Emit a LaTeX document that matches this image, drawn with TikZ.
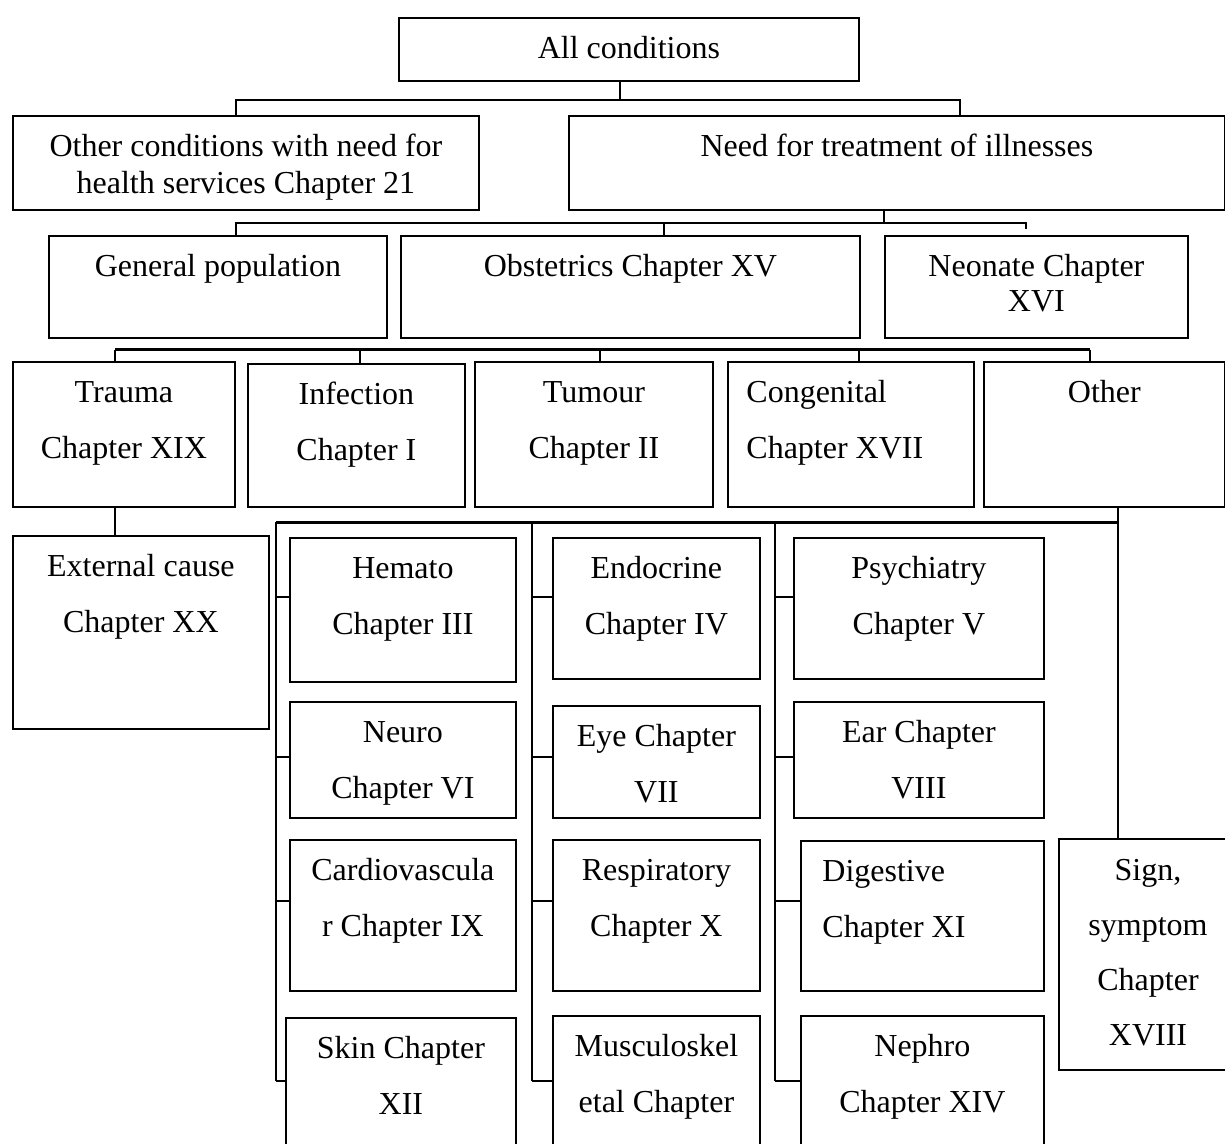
\documentclass[tikz,border=0pt]{standalone}
\usepackage{fontspec}
\setmainfont{Liberation Serif}
\newcommand\vlinesc[2]{\vtop{\baselineskip=#1\lineskiplimit=-20pt\lineskip=0pt\halign{\hfil##\hfil\cr#2\crcr}}}
\newcommand\vlinesl[2]{\vtop{\baselineskip=#1\lineskiplimit=-20pt\lineskip=0pt\halign{##\hfil\cr#2\crcr}}}
\tikzset{
  box/.style={draw, line width=0.9pt, inner sep=0pt, anchor=north west},
  conn/.style={line width=0.7pt},
  bus/.style={line width=1.5pt},
  txt/.style={inner sep=0pt, anchor=base, font=\fontsize{16}{18.5}\selectfont},
}
% name, x1, y1, x2, y2
\newcommand\bx[5]{\node[box, minimum width={(#4-#2)*0.5pt}, minimum height={(#5-#3)*0.5pt}] (#1) at (#2,#3) {};}
% centered text: name, spacing, lines
\newcommand\tx[3]{\node[txt] (#1-t) at ([yshift=-20.8pt]#1.north) {\vlinesc{#2}{#3}};}
% left text: name, indent(pt), spacing, lines
\newcommand\txl[4]{\node[txt, anchor=base west] (#1-t) at ([yshift=-20.8pt, xshift=#2]#1.north west) {\vlinesl{#3}{#4}};}
\newcommand\tk[3]{\draw[conn] (#1,#2) -- (#3.west |- #1,#2);}
\begin{document}
\begin{tikzpicture}[x=0.5pt, y=-0.5pt]
\useasboundingbox (0,0) rectangle (1225,1144);
% boxes
\bx{all}{398}{17}{858}{80}
\bx{other}{12}{115}{478}{209}
\bx{need}{568}{115}{1224}{209}
\bx{genpop}{48}{235}{386}{337}
\bx{obst}{400}{235}{859}{337}
\bx{neo}{884}{235}{1187}{337}
\bx{trauma}{12}{361}{234}{506}
\bx{infect}{247}{363}{464}{506}
\bx{tumour}{474}{361}{712}{506}
\bx{cong}{727}{361}{973}{506}
\bx{otherc}{983}{361}{1224}{506}
\bx{ext}{12}{535}{268}{728}
\bx{hemato}{289}{537}{515}{681}
\bx{neuro}{289}{701}{515}{817}
\bx{cardio}{289}{839}{515}{990}
\bx{skin}{285}{1017}{515}{1170}
\bx{endo}{552}{537}{759}{678}
\bx{eye}{552}{705}{759}{817}
\bx{resp}{552}{839}{759}{990}
\bx{musc}{552}{1015}{759}{1170}
\bx{psych}{793}{537}{1043}{678}
\bx{ear}{793}{701}{1043}{817}
\bx{dig}{800}{840}{1043}{990}
\bx{nephro}{800}{1015}{1043}{1170}
\bx{sign}{1058}{838}{1240}{1069}
% texts
\tx{all}{18.5pt}{All conditions}
\tx{other}{18.5pt}{Other conditions with need for\cr health services Chapter 21}
\tx{need}{18.5pt}{Need for treatment of illnesses}
\tx{genpop}{18.5pt}{General population}
\tx{obst}{18.5pt}{Obstetrics Chapter XV}
\tx{neo}{17.5pt}{Neonate Chapter\cr XVI}
\tx{trauma}{28pt}{Trauma\cr Chapter XIX}
\tx{infect}{28pt}{Infection\cr Chapter I}
\tx{tumour}{28pt}{Tumour\cr Chapter II}
\txl{cong}{9.5pt}{28pt}{Congenital\cr Chapter XVII}
\tx{otherc}{28pt}{Other}
\tx{ext}{28pt}{External cause\cr Chapter XX}
\tx{hemato}{28pt}{Hemato\cr Chapter III}
\tx{neuro}{28pt}{Neuro\cr Chapter VI}
\tx{cardio}{28pt}{Cardiovascula\cr r Chapter IX}
\tx{skin}{28pt}{Skin Chapter\cr XII}
\tx{endo}{28pt}{Endocrine\cr Chapter IV}
\tx{eye}{28pt}{Eye Chapter\cr VII}
\tx{resp}{28pt}{Respiratory\cr Chapter X}
\tx{musc}{28pt}{Musculoskel\cr etal Chapter}
\tx{psych}{28pt}{Psychiatry\cr Chapter V}
\tx{ear}{28pt}{Ear Chapter\cr VIII}
\txl{dig}{11pt}{28pt}{Digestive\cr Chapter XI}
\tx{nephro}{28pt}{Nephro\cr Chapter XIV}
\node[txt] (sign-t) at (1148,880) {\vlinesc{27.5pt}{Sign,\cr symptom\cr Chapter\cr XVIII}};
% bus 1
\coordinate (b1l) at (236,100);
\coordinate (b1r) at (960,100);
\coordinate (b1m) at (620,100);
\draw[conn] (b1m |- all.south) -- (b1m);
\draw[conn] (b1l |- other.north) -- (b1l) -- (b1r) -- (b1r |- need.north);
% bus 2
\coordinate (b2l) at (236,223);
\coordinate (b2r) at (1026,223);
\coordinate (b2m) at (884,223);
\coordinate (b2c) at (664,223);
\coordinate (b2s) at (1026,229);
\draw[conn] (b2m |- need.south) -- (b2m);
\draw[conn] (b2l |- genpop.north) -- (b2l) -- (b2r) -- (b2s);
\draw[conn] (b2c) -- (b2c |- obst.north);
% bus 3
\coordinate (b3a) at (115,350);
\coordinate (b3b) at (360,350);
\coordinate (b3c) at (600,350);
\coordinate (b3d) at (859,350);
\coordinate (b3e) at (1090,350);
\draw[bus] (b3a) -- (b3e);
\draw[conn] (b3a) -- (b3a |- trauma.north);
\draw[conn] (b3b) -- (b3b |- infect.north);
\draw[conn] (b3c) -- (b3c |- tumour.north);
\draw[conn] (b3d) -- (b3d |- cong.north);
\draw[conn] (b3e) -- (b3e |- otherc.north);
\draw[conn] (b3a |- trauma.south) -- (b3a |- ext.north);
% bus 4
\coordinate (b4l) at (276,522);
\coordinate (b4r) at (1118,522);
\coordinate (c2) at (532,522);
\coordinate (c3) at (775,522);
\draw[bus] (b4l) -- (b4r);
\draw[conn] (b4r |- otherc.south) -- (b4r |- sign.north);
\draw[conn] (b4l) -- (276,1081);
\draw[conn] (c2) -- (532,1081);
\draw[conn] (c3) -- (775,1081);
\tk{276}{597}{hemato}
\tk{276}{757}{neuro}
\tk{276}{901}{cardio}
\tk{276}{1081}{skin}
\tk{532}{597}{endo}
\tk{532}{757}{eye}
\tk{532}{901}{resp}
\tk{532}{1081}{musc}
\tk{775}{597}{psych}
\tk{775}{757}{ear}
\tk{775}{901}{dig}
\tk{775}{1081}{nephro}
\end{tikzpicture}
\end{document}
